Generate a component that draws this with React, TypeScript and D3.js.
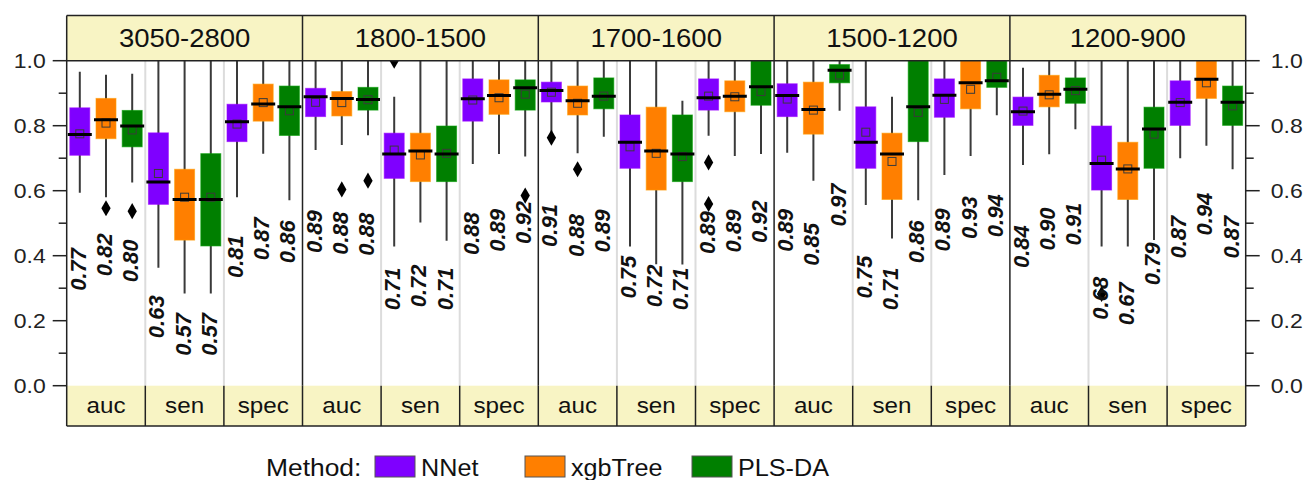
import React from "react";
import * as d3 from "d3";

const panels = ["3050-2800", "1800-1500", "1700-1600", "1500-1200", "1200-900"];
const metrics = ["auc", "sen", "spec"];
const methods = ["NNet", "xgbTree", "PLS-DA"];
const methodColors = ["#7f00ff", "#ff7f00", "#007f00"];
const yTicks = [0, 0.2, 0.4, 0.6, 0.8, 1.0];
const yMinorTicks = [0.1, 0.3, 0.5, 0.7, 0.9];

// rows = panels; columns = auc(NNet, xgbTree, PLS-DA), sen(...), spec(...)
const whiskerHigh = [
  [0.966, 0.957, 0.96, 1, 1, 1, 1, 1, 1],
  [1, 1, 1, 0.889, 1, 1, 1, 1, 1],
  [1, 1, 1, 1, 1, 0.877, 1, 1, 1],
  [1, 1, 1, 1, 0.889, 1, 1, 1, 1],
  [0.978, 1, 1, 1, 1, 1, 1, 1, 1],
];
const q3 = [
  [0.855, 0.884, 0.847, 0.778, 0.666, 0.714, 0.866, 0.928, 0.922],
  [0.915, 0.905, 0.918, 0.777, 0.777, 0.799, 0.944, 0.941, 0.941],
  [0.934, 0.922, 0.947, 0.833, 0.857, 0.833, 0.944, 0.938, 1.0],
  [0.929, 0.934, 0.988, 0.858, 0.777, 1.0, 0.944, 1.0, 1.0],
  [0.888, 0.955, 0.947, 0.799, 0.749, 0.857, 0.938, 1.0, 0.922],
];
const medians = [
  [0.773, 0.818, 0.799, 0.627, 0.573, 0.573, 0.812, 0.867, 0.858],
  [0.889, 0.884, 0.881, 0.713, 0.722, 0.713, 0.883, 0.893, 0.917],
  [0.908, 0.877, 0.891, 0.749, 0.722, 0.713, 0.886, 0.891, 0.92],
  [0.893, 0.85, 0.971, 0.749, 0.713, 0.858, 0.894, 0.932, 0.938],
  [0.843, 0.897, 0.912, 0.684, 0.667, 0.79, 0.872, 0.943, 0.872],
];
const q1 = [
  [0.709, 0.76, 0.735, 0.558, 0.448, 0.43, 0.751, 0.814, 0.77],
  [0.828, 0.83, 0.848, 0.638, 0.628, 0.628, 0.814, 0.835, 0.848],
  [0.873, 0.833, 0.852, 0.669, 0.602, 0.628, 0.848, 0.843, 0.863],
  [0.828, 0.774, 0.932, 0.669, 0.573, 0.751, 0.826, 0.852, 0.918],
  [0.801, 0.858, 0.869, 0.602, 0.573, 0.669, 0.801, 0.884, 0.801],
];
const whiskerLow = [
  [0.594, 0.58, 0.625, 0.363, 0.284, 0.284, 0.58, 0.714, 0.571],
  [0.725, 0.741, 0.771, 0.428, 0.502, 0.446, 0.682, 0.713, 0.705],
  [0.778, 0.715, 0.766, 0.428, 0.374, 0.373, 0.769, 0.707, 0.713],
  [0.717, 0.631, 0.846, 0.556, 0.453, 0.571, 0.648, 0.707, 0.832],
  [0.679, 0.712, 0.789, 0.428, 0.428, 0.448, 0.7, 0.738, 0.666],
];
const means = [
  [0.775, 0.808, 0.787, 0.653, 0.58, 0.58, 0.805, 0.871, 0.846],
  [0.872, 0.871, 0.88, 0.725, 0.71, 0.715, 0.879, 0.886, 0.897],
  [0.903, 0.869, 0.891, 0.735, 0.715, 0.705, 0.891, 0.889, 0.905],
  [0.882, 0.848, 0.956, 0.78, 0.69, 0.841, 0.881, 0.912, 0.949],
  [0.845, 0.895, 0.908, 0.694, 0.667, 0.774, 0.871, 0.932, 0.861],
];
// [panel, metric, method, value]
const outliers: [number, number, number, number][] = [
  [0, 0, 1, 0.546], [0, 0, 2, 0.537],
  [1, 0, 1, 0.604], [1, 0, 2, 0.631], [1, 1, 0, 1.0], [1, 2, 2, 0.585],
  [2, 0, 0, 0.763], [2, 0, 1, 0.666], [2, 2, 0, 0.687], [2, 2, 0, 0.559],
  [4, 1, 0, 0.282],
];

const W = 1303, H = 480;
const left = 66.7, right = 1245.7;
const top = 15.5, headerBottom = 60.7, plotBottom = 385.7, stripBottom = 426;
const FONT = "'Liberation Sans', Arial, sans-serif";
const STRIP = "#f8f4c4";
const SX = 1.1;

export default function App() {
  const xPanel = d3.scaleBand().domain(panels).range([left, right]);
  const xMetric = d3.scaleBand().domain(metrics).range([0, xPanel.bandwidth()]);
  const xMethod = d3.scalePoint().domain(methods).range([0, xMetric.bandwidth()]).padding(0.5);
  const y = d3.scaleLinear().domain([0, 1]).range([plotBottom, headerBottom]);
  const boxW = 20;
  const diamond = d3.symbol().type(d3.symbolDiamond).size(75)();
  const fmt = d3.format(".2f");
  const tickFmt = d3.format(".1f");

  const cx = (p: number, m: number, k: number) =>
    (xPanel(panels[p]) as number) + (xMetric(metrics[m]) as number) + (xMethod(methods[k]) as number);

  const boxes: JSX.Element[] = [];
  const labels: JSX.Element[] = [];
  panels.forEach((pn, p) => {
    metrics.forEach((mn, m) => {
      methods.forEach((kn, k) => {
        const i = m * 3 + k;
        const x = cx(p, m, k);
        boxes.push(
          <g key={`b${p}-${i}`}>
            <line x1={x} x2={x} y1={y(whiskerLow[p][i])} y2={y(whiskerHigh[p][i])} stroke="#3a3a3a" strokeWidth={2} />
            <rect x={x - boxW / 2} width={boxW} y={y(q3[p][i])} height={y(q1[p][i]) - y(q3[p][i])}
              fill={methodColors[k]} stroke={d3.color(methodColors[k])!.brighter(0.6).toString()} strokeWidth={1} strokeOpacity={0.6} />
            <rect x={x - 4} y={y(means[p][i]) - 4} width={8} height={8} fill="none" stroke="#3a3a3a" strokeWidth={1} />
            <line x1={x - boxW / 2 - 2} x2={x + boxW / 2 + 2} y1={y(medians[p][i])} y2={y(medians[p][i])} stroke="#000" strokeWidth={3} />
          </g>
        );
        labels.push(
          <text key={`l${p}-${i}`} transform={`translate(${x + 6},${y(medians[p][i] - 0.415)}) rotate(-90)`}
            textAnchor="middle" fontSize={22} fontWeight="bold" fontStyle="italic" fill="#111" fontFamily={FONT}>
            {fmt(medians[p][i])}
          </text>
        );
      });
    });
  });

  const subLines: JSX.Element[] = [];
  panels.forEach((pn, p) => {
    metrics.forEach((mn, m) => {
      if (m === 0) return;
      const x = (xPanel(pn) as number) + (xMetric(mn) as number);
      subLines.push(<line key={`s${p}${m}`} x1={x} x2={x} y1={headerBottom} y2={plotBottom} stroke="#dcdcdc" strokeWidth={2} />);
    });
  });

  return (
    <svg width={W} height={H} style={{ position: "absolute", left: 0, top: 0, background: "#fff" }}>
      <defs>
        <clipPath id="plotclip">
          <rect x={left} y={headerBottom} width={right - left} height={plotBottom - headerBottom} />
        </clipPath>
      </defs>
      <rect x={left} y={top} width={right - left} height={headerBottom - top} fill={STRIP} />
      <rect x={left} y={plotBottom} width={right - left} height={stripBottom - plotBottom} fill={STRIP} />
      {subLines}
      <g clipPath="url(#plotclip)">
        {boxes}
        {outliers.map(([p, m, k, v], j) => (
          <path key={`o${j}`} d={diamond} transform={`translate(${cx(p, m, k)},${y(v)})`} fill="#000" />
        ))}
      </g>
      {labels}
      {panels.map((pn, p) => {
        const x = xPanel(pn) as number;
        return p === 0 ? null : (
          <line key={`pd${p}`} x1={x} x2={x} y1={top} y2={plotBottom} stroke="#222" strokeWidth={1.5} />
        );
      })}
      {panels.map((pn, p) =>
        metrics.map((mn, m) => {
          const x = (xPanel(pn) as number) + (xMetric(mn) as number);
          if (p === 0 && m === 0) return null;
          return <line key={`bd${p}${m}`} x1={x} x2={x} y1={plotBottom} y2={stripBottom} stroke="#222" strokeWidth={1.5} />;
        })
      )}
      <line x1={left} x2={right} y1={top} y2={top} stroke="#222" strokeWidth={1.5} />
      <line x1={left} x2={right} y1={headerBottom} y2={headerBottom} stroke="#222" strokeWidth={1.5} />
      <line x1={left} x2={right} y1={stripBottom} y2={stripBottom} stroke="#222" strokeWidth={1.5} />
      <line x1={left} x2={left} y1={top} y2={stripBottom} stroke="#222" strokeWidth={1.5} />
      <line x1={right} x2={right} y1={top} y2={stripBottom} stroke="#222" strokeWidth={1.5} />
      {panels.map((pn) => (
        <text key={`h${pn}`} transform={`translate(${(xPanel(pn) as number) + xPanel.bandwidth() / 2},46.5) scale(${SX},1)`}
          textAnchor="middle" fontSize={25} fontFamily={FONT} fill="#111">{pn}</text>
      ))}
      {panels.map((pn) =>
        metrics.map((mn) => (
          <text key={`st${pn}${mn}`} transform={`translate(${(xPanel(pn) as number) + (xMetric(mn) as number) + xMetric.bandwidth() / 2},413) scale(${SX},1)`}
            textAnchor="middle" fontSize={22} fontFamily={FONT} fill="#111">{mn}</text>
        ))
      )}
      {yTicks.map((t) => (
        <g key={`yt${t}`}>
          <line x1={left - 14} x2={left} y1={y(t)} y2={y(t)} stroke="#222" strokeWidth={1.5} />
          <line x1={right} x2={right + 14} y1={y(t)} y2={y(t)} stroke="#222" strokeWidth={1.5} />
          <text transform={`translate(${left - 21},${y(t) + 7}) scale(1.15,1)`} textAnchor="end" fontSize={20} fontFamily={FONT} fill="#222">{tickFmt(t)}</text>
          <text transform={`translate(${right + 25},${y(t) + 7}) scale(1.15,1)`} textAnchor="start" fontSize={20} fontFamily={FONT} fill="#222">{tickFmt(t)}</text>
        </g>
      ))}
      {yMinorTicks.map((t) => (
        <g key={`ym${t}`}>
          <line x1={left - 8} x2={left} y1={y(t)} y2={y(t)} stroke="#222" strokeWidth={1.5} />
          <line x1={right} x2={right + 8} y1={y(t)} y2={y(t)} stroke="#222" strokeWidth={1.5} />
        </g>
      ))}
      <g fontFamily={FONT} fontSize={24} fill="#111">
        <text transform={`translate(266,476) scale(${SX},1)`}>Method:</text>
        {methods.map((mn, k) => {
          const bx = [375, 525, 692][k];
          return (
            <g key={`lg${mn}`}>
              <rect x={bx} y={456} width={40} height={21} fill={methodColors[k]} stroke="#555" strokeWidth={1} />
              <text transform={`translate(${bx + 46},476) scale(1.05,1)`}>{mn}</text>
            </g>
          );
        })}
      </g>
    </svg>
  );
}
